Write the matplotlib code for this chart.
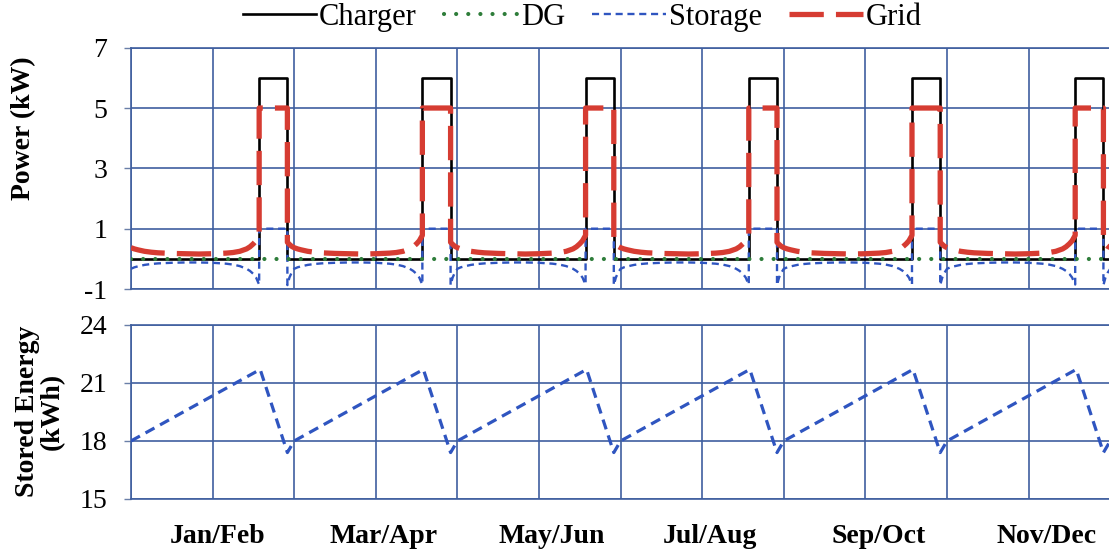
import numpy as np
import matplotlib
matplotlib.use("Agg")
import matplotlib.pyplot as plt

plt.rcParams['font.family'] = ['Liberation Serif', 'DejaVu Serif']
plt.rcParams['axes.unicode_minus'] = False

# one representative day per two-month block (hours), repeated for the year
periods = ['Jan/Feb', 'Mar/Apr', 'May/Jun', 'Jul/Aug', 'Sep/Oct', 'Nov/Dec']
hours = [0, 0.5, 1, 2, 3, 4, 6, 8, 10, 12, 14, 15, 16, 17, 17.5, 18, 18.4, 18.7,
         18.85, 18.85, 23.0, 23.0, 23.3, 23.6, 24]
charger_kw = [0, 0, 0, 0, 0, 0, 0, 0, 0, 0, 0, 0, 0, 0, 0, 0, 0, 0,
              0, 6.0, 6.0, 0, 0, 0, 0]
dg_kw = [0] * len(hours)
storage_kw = [-0.33, -0.28, -0.25, -0.2, -0.17, -0.15, -0.13, -0.12, -0.12, -0.13,
              -0.16, -0.19, -0.24, -0.33, -0.4, -0.5, -0.62, -0.78,
              -0.85, 1.0, 1.0, -0.87, -0.62, -0.47, -0.33]
grid_kw = [0.37, 0.33, 0.3, 0.25, 0.22, 0.2, 0.18, 0.17, 0.16, 0.17,
           0.19, 0.21, 0.25, 0.33, 0.4, 0.5, 0.6, 0.72,
           0.78, 5.0, 5.0, 0.55, 0.48, 0.42, 0.37]

hours_e = [0, 19, 23, 24]
stored_kwh = [18.0, 21.7, 17.4, 18.0]

# label centres (hours along the axis)
label_x = [12.8, 37.1, 61.8, 85.1, 109.9, 134.6]

n = len(periods)
x_p = np.concatenate([np.array(hours) + 24 * k for k in range(n)])
x_e = np.concatenate([np.array(hours_e) + 24 * k for k in range(n)])


def rep(v):
    return np.tile(np.array(v, dtype=float), n)


grid_col = '#3f5f9f'
fig = plt.figure(figsize=(11.09, 5.54), dpi=100)
ax1 = fig.add_axes([0.1181, 0.4783, 0.8830, 0.4356])
ax2 = fig.add_axes([0.1181, 0.0993, 0.8830, 0.3141])

l_ch, = ax1.plot(x_p, rep(charger_kw), color='black', lw=1.9, zorder=3, label='Charger')
l_st, = ax1.plot(x_p, rep(storage_kw), color='#2f55c0', lw=1.7, ls=(0, (3.0, 2.0)),
                 zorder=4, label='Storage')
l_gr, = ax1.plot(x_p, rep(grid_kw), color='#d63c32', lw=3.8, ls=(0, (6.5, 2.3)),
                 zorder=5, label='Grid')
l_dg, = ax1.plot(x_p, rep(dg_kw), color='#2e7d3a', lw=3.0, ls=(0, (0.01, 2.9)),
                 dash_capstyle='round', zorder=6, label='DG')

ax2.plot(x_e, rep(stored_kwh), color='#2f55c0', lw=2.3, ls=(0, (3.2, 2.0)), zorder=4)

for ax, lo, hi, ticks in [(ax1, -1, 7, [-1, 1, 3, 5, 7]), (ax2, 15, 24, [15, 18, 21, 24])]:
    ax.set_xlim(0, 24 * n)
    ax.set_ylim(lo, hi)
    ax.set_yticks(ticks)
    ax.set_xticks(np.arange(0, 24 * n + 1, 12))
    ax.set_xticklabels([])
    ax.grid(True, color=grid_col, lw=1.2)
    ax.set_axisbelow(True)
    ax.tick_params(axis='y', length=5, width=1.0, color='#6a7fa8', pad=12, labelsize=20)
    ax.tick_params(axis='x', length=0)
    for s in ax.spines.values():
        s.set_color(grid_col)
        s.set_linewidth(1.2)

for name, xc in zip(periods, label_x):
    ax2.text(xc, -0.218, name, transform=ax2.get_xaxis_transform(), ha='center',
             va='center', fontsize=20, fontweight='bold')

fig.text(0.021, 0.768, 'Power (kW)', rotation=90, ha='center', va='center',
         fontsize=20, fontweight='bold')
fig.text(0.036, 0.258, 'Stored Energy\n(kWh)', rotation=90, ha='center', va='center',
         multialignment='center', fontsize=20, fontweight='bold', linespacing=1.0)

fig.legend(handles=[l_ch, l_dg, l_st, l_gr], loc='upper center', bbox_to_anchor=(0.525, 1.045),
           ncol=4, frameon=False, fontsize=22, handlelength=2.4, handletextpad=0.1,
           columnspacing=0.9)

fig.savefig('out.png', dpi=100)
